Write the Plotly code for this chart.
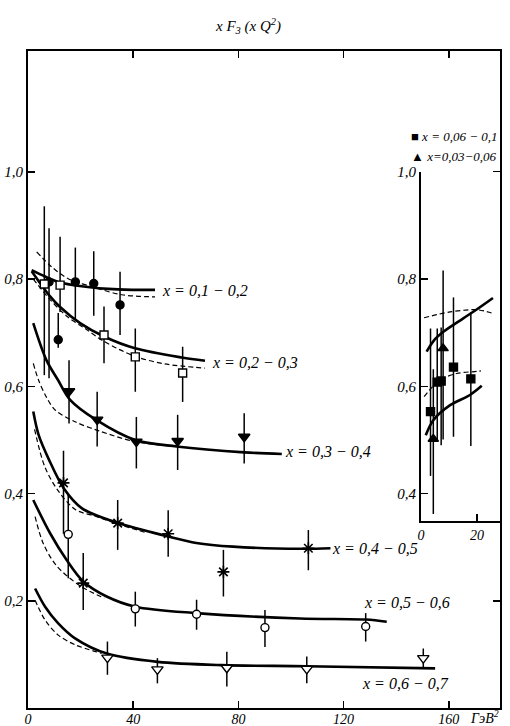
import plotly.graph_objects as go

# ---------------- data (Q^2 in GeV^2, xF3) ----------------
# x = 0.1-0.2 (filled circles)
q2_a = [8.0, 11.5, 18.0, 25.0, 35.0]
f_a = [0.795, 0.687, 0.795, 0.792, 0.752]
ep_a = [0.10, 0.05, 0.064, 0.06, 0.062]
em_a = [0.18, 0.015, 0.07, 0.06, 0.056]
# x = 0.2-0.3 (open squares)
q2_b = [6.2, 12.2, 28.9, 40.8, 58.8]
f_b = [0.791, 0.789, 0.696, 0.655, 0.625]
ep_b = [0.145, 0.09, 0.053, 0.053, 0.049]
em_b = [0.17, 0.05, 0.053, 0.065, 0.054]
# x = 0.3-0.4 (filled down triangles)
q2_c = [15.6, 26.3, 41.2, 56.9, 82.2]
f_c = [0.591, 0.538, 0.497, 0.498, 0.506]
ep_c = [0.058, 0.052, 0.046, 0.049, 0.044]
em_c = [0.06, 0.05, 0.05, 0.054, 0.05]
# x = 0.4-0.5 (asterisks)
q2_d = [13.5, 34.1, 53.3, 74.3, 106.6]
f_d = [0.42, 0.345, 0.325, 0.254, 0.298]
ep_d = [0.06, 0.043, 0.044, 0.041, 0.034]
em_d = [0.095, 0.05, 0.043, 0.046, 0.041]
# x = 0.5-0.6 (open circles + one asterisk)
q2_e = [15.3, 40.8, 64.1, 90.1, 128.4]
f_e = [0.324, 0.185, 0.175, 0.150, 0.152]
ep_e = [0.076, 0.032, 0.027, 0.033, 0.025]
em_e = [0.082, 0.033, 0.029, 0.036, 0.028]
q2_e2 = [21.0]
f_e2 = [0.233]
ep_e2 = [0.056]
em_e2 = [0.05]
# x = 0.6-0.7 (open down triangles)
q2_f = [30.2, 49.2, 75.6, 106.0, 150.3]
f_f = [0.094, 0.072, 0.075, 0.073, 0.093]
ep_f = [0.03, 0.021, 0.03, 0.023, 0.018]
em_f = [0.032, 0.026, 0.035, 0.027, 0.019]

sa_x = [1.4, 6.5, 11.5, 20.4, 34.3, 48.3]
sa_y = [0.817, 0.805, 0.795, 0.787, 0.781, 0.780]
da_x = [3.3, 9.0, 15.3, 25.0, 35.6, 48.3]
da_y = [0.851, 0.823, 0.801, 0.785, 0.771, 0.767]
sb_x = [1.4, 5.0, 8.4, 12.2, 19.8, 28.9, 40.7, 58.4, 67.3]
sb_y = [0.815, 0.790, 0.768, 0.748, 0.718, 0.693, 0.671, 0.654, 0.648]
db_x = [2.0, 8.4, 15.0, 22.0, 28.9, 40.7, 52.0, 67.3]
db_y = [0.800, 0.762, 0.730, 0.707, 0.684, 0.656, 0.642, 0.634]
sc_x = [2.0, 7.0, 11.4, 16.0, 26.1, 40.8, 56.5, 82.2, 96.5]
sc_y = [0.718, 0.649, 0.612, 0.575, 0.537, 0.500, 0.488, 0.477, 0.474]
dc_x = [2.0, 4.0, 7.0, 10.3, 17.9, 27.0, 40.7, 56.5]
dc_y = [0.643, 0.612, 0.580, 0.556, 0.534, 0.517, 0.497, 0.488]
sd_x = [2.0, 4.0, 8.0, 13.7, 20.4, 34.3, 53.3, 64.0, 78.0, 104.0, 115.0]
sd_y = [0.553, 0.510, 0.463, 0.409, 0.373, 0.345, 0.320, 0.308, 0.301, 0.297, 0.298]
dd_x = [2.5, 6.4, 11.5, 18.1, 26.1, 34.3, 45.0]
dd_y = [0.520, 0.450, 0.405, 0.370, 0.357, 0.343, 0.327]
se_x = [2.0, 8.4, 14.7, 21.0, 29.9, 40.8, 64.1, 103.4, 128.4, 136.4]
se_y = [0.388, 0.326, 0.276, 0.236, 0.208, 0.189, 0.177, 0.167, 0.165, 0.161]
de_x = [2.7, 5.8, 10.9, 19.8, 29.0]
de_y = [0.357, 0.307, 0.265, 0.228, 0.205]
sf_x = [2.7, 6.5, 11.5, 17.9, 30.3, 49.3, 73.6, 106.0, 154.8]
sf_y = [0.223, 0.189, 0.158, 0.130, 0.101, 0.086, 0.080, 0.078, 0.074]
df_x = [2.7, 6.5, 11.5, 17.9, 28.0]
df_y = [0.201, 0.164, 0.136, 0.118, 0.102]

# inset: x = 0.06-0.1 (filled squares), x = 0.03-0.06 (filled triangles)
q2_sq = [3.4, 5.8, 7.2, 11.6, 17.8]
f_sq = [0.553, 0.608, 0.610, 0.636, 0.614]
ep_sq = [0.155, 0.10, 0.10, 0.13, 0.125]
em_sq = [0.12, 0.11, 0.12, 0.13, 0.125]
q2_tr = [4.4, 7.9]
f_tr = [0.502, 0.671]
ep_tr = [0.13, 0.145]
em_tr = [0.14, 0.17]
is1_x = [2.0, 5.0, 8.0, 15.1, 20.0, 25.7]
is1_y = [0.665, 0.688, 0.702, 0.727, 0.744, 0.765]
is2_x = [1.7, 4.4, 10.4, 17.5, 21.7]
is2_y = [0.509, 0.537, 0.565, 0.584, 0.601]
id1_x = [1.1, 10.4, 19.9, 25.2]
id1_y = [0.728, 0.739, 0.743, 0.737]
id2_x = [1.1, 6.8, 12.7, 19.9, 21.4]
id2_y = [0.581, 0.612, 0.624, 0.628, 0.629]

y_ticks = [0.2, 0.4, 0.6, 0.8, 1.0]
y_text = ["0,2", "0,4", "0,6", "0,8", "1,0"]
x_ticks = [0, 40, 80, 120, 160]
x_text = ["0", "40", "80", "120", "160"]
iy_ticks = [0.4, 0.6, 0.8, 1.0]
iy_text = ["0,4", "0,6", "0,8", "1,0"]
ix_ticks = [0, 20]
ix_text = ["0", "20"]

labels = [
    (50.2, 0.778, "x = 0,1 − 0,2"),
    (69.2, 0.644, "x = 0,2 − 0,3"),
    (97.0, 0.478, "x = 0,3 − 0,4"),
    (114.8, 0.297, "x = 0,4 − 0,5"),
    (127.0, 0.196, "x = 0,5 − 0,6"),
    (126.2, 0.045, "x = 0,6 − 0,7"),
]

# ---------------- figure ----------------
FONT = "Liberation Serif"
fig = go.Figure()

def curve(xs, ys, dashed=False, xa="x", ya="y"):
    fig.add_trace(go.Scatter(
        x=xs, y=ys, mode="lines", xaxis=xa, yaxis=ya,
        line=dict(color="black", width=1.2 if dashed else 2.6,
                  dash="5px,3px" if dashed else "solid",
                  shape="spline", smoothing=0.9),
        showlegend=False, hoverinfo="skip"))

for xs, ys in [(da_x, da_y), (db_x, db_y), (dc_x, dc_y), (dd_x, dd_y), (de_x, de_y), (df_x, df_y)]:
    curve(xs, ys, dashed=True)
for xs, ys in [(sa_x, sa_y), (sb_x, sb_y), (sc_x, sc_y), (sd_x, sd_y), (se_x, se_y), (sf_x, sf_y)]:
    curve(xs, ys)
for xs, ys in [(id1_x, id1_y), (id2_x, id2_y)]:
    curve(xs, ys, dashed=True, xa="x2", ya="y2")
for xs, ys in [(is1_x, is1_y), (is2_x, is2_y)]:
    curve(xs, ys, xa="x2", ya="y2")

def points(xs, ys, ep, em, symbol, size, fill, xa="x", ya="y", lw=1.4):
    fig.add_trace(go.Scatter(
        x=xs, y=ys, mode="markers", xaxis=xa, yaxis=ya,
        marker=dict(symbol=symbol, size=size, color=fill,
                    line=dict(color="black", width=lw)),
        error_y=dict(type="data", array=ep, arrayminus=em, symmetric=False,
                     color="black", thickness=1.5, width=0),
        showlegend=False, hoverinfo="skip"))

points(q2_a, f_a, ep_a, em_a, "circle", 8, "black")
points(q2_b, f_b, ep_b, em_b, "square", 8, "white")
points(q2_c, f_c, ep_c, em_c, "triangle-down", 10, "black")
points(q2_d, f_d, ep_d, em_d, "asterisk-open", 10, "black", lw=1.6)
points(q2_e, f_e, ep_e, em_e, "circle", 8, "white")
points(q2_e2, f_e2, ep_e2, em_e2, "asterisk-open", 10, "black", lw=1.6)
points(q2_f, f_f, ep_f, em_f, "triangle-down", 10, "white")
points(q2_sq, f_sq, ep_sq, em_sq, "square", 8, "black", xa="x2", ya="y2")
points(q2_tr, f_tr, ep_tr, em_tr, "triangle-up", 9, "black", xa="x2", ya="y2")

ann = []
for lx, ly, txt in labels:
    ann.append(dict(x=lx, y=ly, xref="x", yref="y", text="<i>" + txt + "</i>",
                    showarrow=False, xanchor="left", yanchor="middle",
                    font=dict(family=FONT, size=16, color="black")))

L, R, T, B = 28, 10, 51, 18
W, H = 510, 726
pw, ph = W - L - R, H - T - B
def px(xp):
    return (xp - L) / pw
def py(yp):
    return (H - B - yp) / ph

ann.append(dict(x=px(248), y=py(26), xref="paper", yref="paper",
                xanchor="center", yanchor="middle",
                text="<i>x F<sub>3</sub> (x Q<sup>2</sup>)</i>", showarrow=False,
                font=dict(family=FONT, size=15, color="black")))
ann.append(dict(x=px(468), y=py(717), xref="paper", yref="paper",
                text="<i>ГэВ<sup>2</sup></i>", showarrow=False,
                xanchor="left", yanchor="middle",
                font=dict(family=FONT, size=14, color="black")))
ann.append(dict(x=px(409), y=py(136), xref="paper", yref="paper",
                text="■ <i>x = 0,06 − 0,1</i>", showarrow=False,
                xanchor="left", yanchor="middle",
                font=dict(family=FONT, size=13, color="black")))
ann.append(dict(x=px(409), y=py(156), xref="paper", yref="paper",
                text="▲ <i>x=0,03−0,06</i>", showarrow=False,
                xanchor="left", yanchor="middle",
                font=dict(family=FONT, size=13, color="black")))

axis_common = dict(showgrid=False, zeroline=False, linecolor="black",
                   ticks="inside", ticklen=7, tickwidth=1.5, tickcolor="black",
                   tickmode="array")
xfont = dict(family=FONT, size=14, color="black", style="italic")
yfont = dict(family=FONT, size=15, color="black", style="italic")

ix0 = px(421)
iy0 = py(521)
iy1 = py(708 - 536 * 1.0)

fig.update_layout(
    width=W, height=H,
    margin=dict(l=L, r=R, t=T, b=B, autoexpand=False),
    paper_bgcolor="white", plot_bgcolor="white",
    font=dict(family=FONT, color="black"),
    xaxis=dict(range=[0, pw / 2.63], domain=[0, 1], tickvals=x_ticks, ticktext=x_text,
               showline=True, linewidth=2, mirror="ticks", tickfont=xfont,
               ticklabelstandoff=-3, **axis_common),
    yaxis=dict(range=[0, ph / 536.0], domain=[0, 1], tickvals=y_ticks, ticktext=y_text,
               showline=True, linewidth=2, mirror="ticks", tickfont=yfont,
               **axis_common),
    xaxis2=dict(range=[0, (500 - 421) / 2.8], domain=[ix0, 1], anchor="y2",
                tickvals=ix_ticks, ticktext=ix_text, showline=True, linewidth=2,
                tickfont=xfont, **axis_common),
    yaxis2=dict(range=[(708 - 521) / 536.0, 1.0], domain=[iy0, iy1], anchor="x2",
                tickvals=iy_ticks, ticktext=iy_text, showline=True, linewidth=2,
                tickfont=yfont, **axis_common),
    annotations=ann,
    showlegend=False,
)

fig.write_html("out.html", config={"displayModeBar": False, "staticPlot": True},
               post_script="document.body.style.margin='0px';document.body.style.padding='0px';")
